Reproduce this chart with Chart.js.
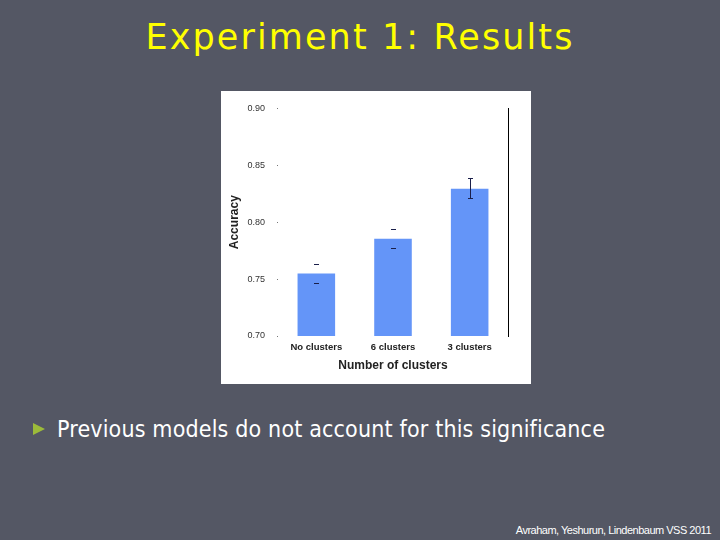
<!DOCTYPE html>
<html><head><meta charset="utf-8">
<script src="https://cdn.jsdelivr.net/npm/chart.js@4.4.0/dist/chart.umd.min.js"></script>
<style>
html,body{margin:0;padding:0;}
body{width:720px;height:540px;background:#545764;position:relative;overflow:hidden;font-family:"DejaVu Sans Condensed","DejaVu Sans",sans-serif;}
#title{position:absolute;left:0;width:720px;top:13px;text-align:center;color:#ffff00;font-family:"DejaVu Sans",sans-serif;font-size:35px;letter-spacing:2.1px;line-height:48px;}
#box{position:absolute;left:221px;top:91px;width:310px;height:293px;background:#fff;}
#bullet{position:absolute;left:33px;top:423px;width:0;height:0;border-top:6px solid transparent;border-bottom:6px solid transparent;border-left:12px solid #9cbb3a;}
#btext{position:absolute;left:57px;top:413px;color:#fff;font-size:23px;letter-spacing:0.16px;line-height:32px;white-space:nowrap;}
#foot{position:absolute;right:9px;top:522px;color:#fff;font-family:"Liberation Sans",Arial,sans-serif;font-size:11px;line-height:16px;letter-spacing:-0.5px;white-space:nowrap;}
</style></head>
<body>
<div id="title">Experiment 1: Results</div>
<div id="box"><canvas id="c" width="310" height="293"></canvas></div>
<div id="bullet"></div>
<div id="btext">Previous models do not account for this significance</div>
<div id="foot">Avraham, Yeshurun, Lindenbaum VSS 2011</div>
<script>
const categories = ["No clusters", "6 clusters", "3 clusters"];
const accuracy = [0.755, 0.7855, 0.8295];
const errLow = [0.7467, 0.7773, 0.8213];
const errHigh = [0.7634, 0.7943, 0.8386];
const yTicks = [0.70, 0.75, 0.80, 0.85, 0.90];

const errorBars = {
  id: 'errorBars',
  afterDatasetsDraw(chart) {
    const ctx = chart.ctx, x = chart.scales.x, y = chart.scales.y;
    ctx.save();
    ctx.strokeStyle = '#1a1f4a';
    ctx.lineWidth = 1;
    accuracy.forEach((v, i) => {
      const cx = Math.round(x.getPixelForValue(i)) + 0.5;
      const yl = Math.round(y.getPixelForValue(errLow[i])) + 0.5;
      const yh = Math.round(y.getPixelForValue(errHigh[i])) + 0.5;
      ctx.beginPath();
      if (i === 2) { ctx.moveTo(cx, yl); ctx.lineTo(cx, yh); }
      ctx.moveTo(cx - 2.5, yl); ctx.lineTo(cx + 2.5, yl);
      ctx.moveTo(cx - 2.5, yh); ctx.lineTo(cx + 2.5, yh);
      ctx.stroke();
    });
    ctx.restore();
  }
};

new Chart(document.getElementById('c'), {
  type: 'bar',
  data: { labels: categories, datasets: [{ data: accuracy, backgroundColor: '#6495f8', barPercentage: 0.98, categoryPercentage: 0.5 }] },
  options: {
    responsive: false, animation: false,
    layout: { padding: { top: 17, right: 22, left: 0, bottom: 0 } },
    plugins: { legend: { display: false }, tooltip: { enabled: false } },
    scales: {
      x: {
        grid: { display: false, drawTicks: false }, border: { display: false },
        ticks: { color: '#222', font: { family: 'Liberation Sans', size: 9.5, weight: 'bold' }, padding: 6 },
        title: { display: true, text: 'Number of clusters', color: '#222', font: { family: 'Liberation Sans', size: 12, weight: 'bold' }, padding: { top: 0, bottom: 11 } },
        afterFit(s) { s.height = 48; }
      },
      y: {
        min: 0.70, max: 0.90,
        afterBuildTicks(s) { s.ticks = yTicks.map(v => ({ value: v })); },
        grid: { drawOnChartArea: false, tickLength: 1, color: '#777' },
        border: { display: false },
        ticks: { color: '#333', font: { family: 'Liberation Sans', size: 9 }, padding: 12, callback: v => v.toFixed(2) },
        title: { display: true, text: 'Accuracy', color: '#222', font: { family: 'Liberation Sans', size: 12, weight: 'bold' }, padding: { top: 6, bottom: 0 } },
        afterFit(s) { s.width = 57; }
      },
      y2: {
        position: 'right', min: 0.70, max: 0.90,
        grid: { display: false }, ticks: { display: false },
        border: { display: true, color: '#000', width: 1 },
        afterFit(s) { s.width = 1; }
      }
    }
  },
  plugins: [errorBars]
});
</script>
</body></html>
